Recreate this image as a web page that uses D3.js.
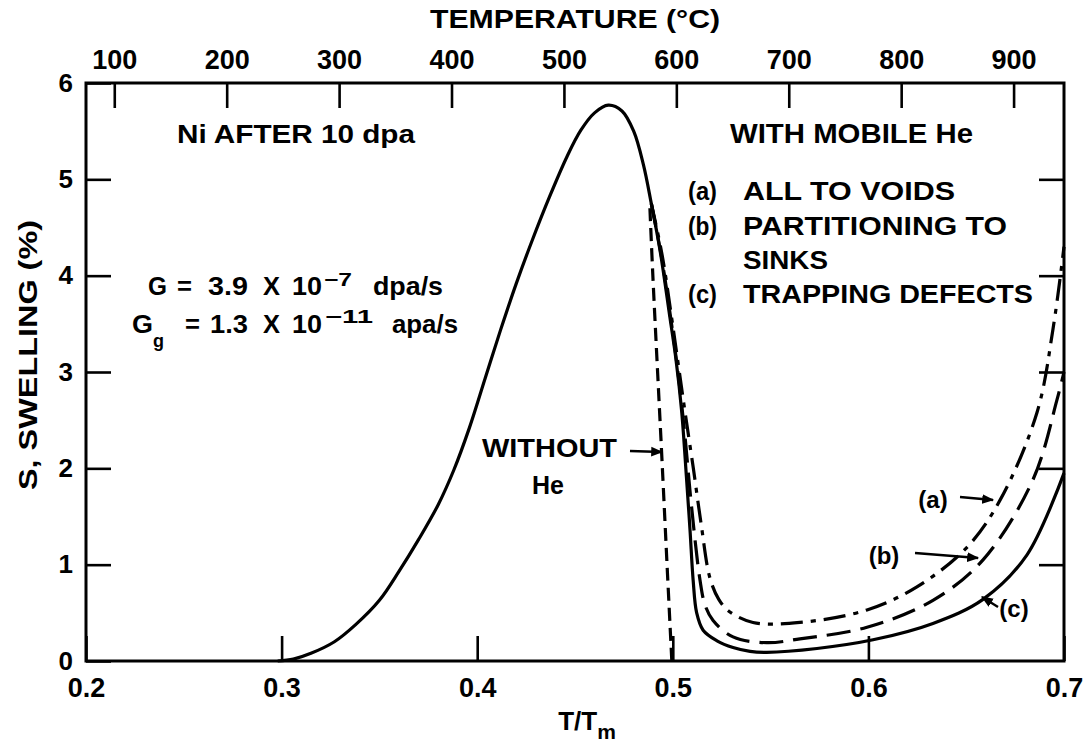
<!DOCTYPE html>
<html><head><meta charset="utf-8">
<script src="https://cdn.jsdelivr.net/npm/d3@7"></script>
<style>
body{margin:0;background:#fff}
text{font-family:"Liberation Sans",Arial,Helvetica,sans-serif;font-weight:bold;fill:#000}
</style>
</head><body>
<svg id="chart" width="1091" height="750"></svg>
<script>
// ---------- data ----------
const xTickValues = [0.2, 0.3, 0.4, 0.5, 0.6, 0.7];
const yTickValues = [0, 1, 2, 3, 4, 5, 6];
const tempTickValues = [100, 200, 300, 400, 500, 600, 700, 800, 900];
const meltingK = 1740; // melting temperature used to relate T/Tm and °C

// (c) trapping defects (solid)
const curveC = [[0.298,0],[0.306,0.02],[0.315,0.08],[0.327,0.20],[0.338,0.38],[0.350,0.63],[0.360,0.93],
  [0.370,1.26],[0.380,1.62],[0.388,1.98],[0.396,2.42],[0.404,2.93],[0.412,3.44],[0.420,3.92],[0.428,4.36],
  [0.437,4.82],[0.446,5.24],[0.453,5.51],[0.460,5.69],[0.467,5.77],[0.474,5.71],[0.480,5.50],[0.485,5.15],
  [0.489,4.75],[0.4935,4.26],[0.4985,3.57],[0.5015,3.15],[0.5045,2.60],[0.507,1.90],[0.5088,1.36],
  [0.5104,0.84],[0.5122,0.50],[0.5155,0.32],[0.5226,0.21],[0.5308,0.14],[0.5395,0.10],[0.548,0.09],
  [0.5737,0.13],[0.6024,0.22],[0.633,0.39],[0.6586,0.64],[0.681,1.10],[0.700,1.95]];
// (a) all to voids (dash-dot)
const curveA = [[0.489,4.75],[0.4945,4.22],[0.4995,3.55],[0.503,3.05],[0.5065,2.55],[0.5105,2.00],
  [0.5145,1.42],[0.519,0.86],[0.5235,0.64],[0.5285,0.52],[0.541,0.40],[0.565,0.40],[0.5993,0.53],
  [0.6248,0.77],[0.6504,1.18],[0.6673,1.67],[0.6862,2.58],[0.6944,3.45],[0.700,4.30]];
// (b) partitioning to sinks (dashed)
const curveB = [[0.489,4.75],[0.494,4.22],[0.499,3.55],[0.5025,3.02],[0.506,2.38],[0.5095,1.62],
  [0.5139,0.84],[0.5165,0.58],[0.5206,0.42],[0.5308,0.25],[0.548,0.19],[0.565,0.23],[0.5993,0.35],
  [0.633,0.63],[0.6586,1.05],[0.6841,1.88],[0.6964,2.71],[0.700,3.00]];
// without He (short dashes)
const curveNoHe = [[0.4883,4.70],[0.4898,4.00],[0.4942,2.20],[0.4973,0.90],[0.4995,0.00]];

// ---------- layout ----------
const svg = d3.select("#chart");
const L = 86, R = 1064, T = 83, B = 661;
const x = d3.scaleLinear().domain([0.2, 0.7]).range([L, R]);
const y = d3.scaleLinear().domain([0, 6]).range([B, T]);
const xTemp = d3.scaleLinear()
  .domain([0.2 * meltingK - 273.15, 0.7 * meltingK - 273.15]).range([L, R]);

const tickLen = 25;
function styleAxis(g, fs) {
  g.select(".domain").remove();
  g.selectAll(".tick line").attr("stroke", "#000").attr("stroke-width", 2.6);
  g.selectAll(".tick text").style("font-size", fs + "px").attr("fill", "#000");
}
svg.append("g").attr("transform", `translate(0,${B})`)
  .call(d3.axisBottom(x).tickValues(xTickValues).tickSize(-tickLen).tickPadding(17).tickFormat(d3.format(".1f")))
  .call(g => styleAxis(g, 27));
svg.append("g").attr("transform", `translate(${L},0)`)
  .call(d3.axisLeft(y).tickValues(yTickValues).tickSize(-tickLen).tickPadding(13).tickFormat(d3.format("d")))
  .call(g => styleAxis(g, 26));
svg.append("g").attr("transform", `translate(${R},0)`)
  .call(d3.axisRight(y).tickValues(yTickValues.slice(1, -1)).tickSize(-tickLen).tickFormat(""))
  .call(g => styleAxis(g, 26));
svg.append("g").attr("transform", `translate(0,${T})`)
  .call(d3.axisTop(xTemp).tickValues(tempTickValues).tickSize(-tickLen).tickPadding(14).tickFormat(d3.format("d")))
  .call(g => styleAxis(g, 27));

// frame
svg.append("rect").attr("x", L).attr("y", T).attr("width", R - L).attr("height", B - T)
  .attr("fill", "none").attr("stroke", "#000").attr("stroke-width", 3);

// ---------- curves ----------
const line = d3.line().x(d => x(d[0])).y(d => y(d[1])).curve(d3.curveCatmullRom.alpha(0.5));
const curves = [
  {data: curveNoHe, dash: "13,7"},
  {data: curveA, dash: "22,8,5,8"},
  {data: curveB, dash: "24,10"},
  {data: curveC, dash: null}
];
svg.append("g").selectAll("path").data(curves).join("path")
  .attr("d", d => line(d.data)).attr("fill", "none").attr("stroke", "#000")
  .attr("stroke-width", 3.2).attr("stroke-dasharray", d => d.dash);

// ---------- arrows ----------
svg.append("defs").append("marker").attr("id", "ah").attr("viewBox", "0 0 10 10")
  .attr("refX", 9).attr("refY", 5).attr("markerWidth", 5).attr("markerHeight", 5)
  .attr("markerUnits", "strokeWidth").attr("orient", "auto")
  .append("path").attr("d", "M0,1 L10,5 L0,9 z").attr("fill", "#000");
const arrows = [[630, 451, 662, 452], [960, 497, 993, 500], [915, 553, 978, 558], [998, 607, 982, 597]];
svg.append("g").selectAll("line").data(arrows).join("line")
  .attr("x1", d => d[0]).attr("y1", d => d[1]).attr("x2", d => d[2]).attr("y2", d => d[3])
  .attr("stroke", "#000").attr("stroke-width", 2.4).attr("marker-end", "url(#ah)");

// ---------- texts ----------
function txt(s, xx, yy, fs, opts = {}) {
  const t = svg.append("text").attr("x", xx).attr("y", yy).style("font-size", fs + "px")
    .attr("text-anchor", opts.anchor || "start").text(s);
  if (opts.len) t.attr("textLength", opts.len).attr("lengthAdjust", "spacingAndGlyphs");
  return t;
}
txt("TEMPERATURE (°C)", 575, 28, 25, {anchor: "middle", len: 290});
txt("Ni AFTER 10 dpa", 177, 143, 25, {len: 238});
txt("WITH MOBILE He", 730, 143, 27, {len: 243});
txt("(a)", 688, 200, 26, {len: 29});
txt("ALL TO VOIDS", 743, 200, 25, {len: 212});
txt("(b)", 688, 235, 26, {len: 29});
txt("PARTITIONING TO", 743, 235, 25, {len: 264});
txt("SINKS", 743, 269, 25, {len: 85});
txt("(c)", 688, 303, 26, {len: 29});
txt("TRAPPING DEFECTS", 743, 303, 25, {len: 290});
txt("WITHOUT", 482, 457, 25, {len: 135});
txt("He", 548, 494, 25, {anchor: "middle"});
txt("(a)", 933, 508, 24, {anchor: "middle"});
txt("(b)", 884, 564, 24, {anchor: "middle"});
txt("(c)", 1014, 617, 24, {anchor: "middle"});

// G lines: tokens placed where they sit in the figure
function tokens(list) {
  list.forEach(([s, xx, yy, fs, len]) => {
    const t = svg.append("text").attr("x", xx).attr("y", yy).style("font-size", fs + "px").text(s);
    if (len) t.attr("textLength", len).attr("lengthAdjust", "spacingAndGlyphs");
  });
}
tokens([
  ["G", 148, 295, 25, 19], ["=", 177, 295, 25, 15], ["3.9", 208, 295, 25, 40], ["X", 263, 295, 25, 17],
  ["10", 292, 295, 25, 30], ["−7", 324, 286, 18, 28], ["dpa/s", 373, 295, 25, 70],
  ["G", 132, 333, 25, 21], ["g", 153, 347, 18, 11], ["=", 185, 333, 25, 15], ["1.3", 210, 333, 25, 38],
  ["X", 263, 333, 25, 17], ["10", 292, 333, 25, 30], ["−11", 325, 323, 18, 48], ["apa/s", 392, 333, 25, 66]
]);

// axis titles
const xt = svg.append("text").attr("x", 587).attr("y", 730).attr("text-anchor", "middle").style("font-size", "26px");
xt.append("tspan").text("T/T");
xt.append("tspan").attr("dy", 9).style("font-size", "21px").text("m");
svg.append("text").attr("transform", "translate(37,355) rotate(-90)").attr("text-anchor", "middle")
  .style("font-size", "25px").attr("textLength", 270).attr("lengthAdjust", "spacingAndGlyphs").text("S, SWELLING (%)");
</script>
</body></html>
